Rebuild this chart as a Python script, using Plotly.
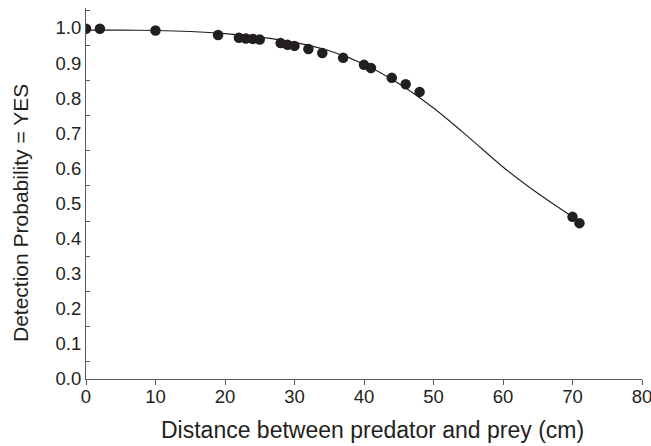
import plotly.graph_objects as go

# Observed data points
distance_cm = [0, 2, 10, 19, 22, 23, 24, 25, 28, 29, 30, 32, 34, 37, 40, 41, 44, 46, 48, 70, 71]
detect_prob = [0.998, 0.998, 0.993, 0.98, 0.972, 0.970, 0.969, 0.967, 0.957, 0.952, 0.949,
               0.940, 0.929, 0.915, 0.895, 0.886, 0.858, 0.840, 0.818, 0.462, 0.444]

# Fitted curve
curve_x = [0, 5, 10, 15, 20, 25, 30, 35, 40, 45, 50, 55, 60, 65, 70]
curve_y = [0.994, 0.994, 0.993, 0.990, 0.984, 0.974, 0.959, 0.935, 0.897, 0.842, 0.772,
           0.690, 0.604, 0.529, 0.462]

x_ticks = [0, 10, 20, 30, 40, 50, 60, 70, 80]

ink = "#231f20"
axis_col = "#5a5a5a"

L, R, T, B = 86, 9, 8, 67
W, H = 651, 446
pw, ph = W - L - R, H - T - B

fig = go.Figure()
fig.add_trace(go.Scatter(x=curve_x, y=curve_y, mode="lines",
                         line=dict(color=ink, width=1.1, shape="spline", smoothing=0.8),
                         showlegend=False, hoverinfo="skip"))
fig.add_trace(go.Scatter(x=distance_cm, y=detect_prob, mode="markers",
                         marker=dict(color=ink, size=10.5, line=dict(width=0)),
                         showlegend=False))

fig.update_layout(
    width=W, height=H,
    margin=dict(l=L, r=R, t=T, b=B),
    paper_bgcolor="white", plot_bgcolor="white",
    font=dict(family="Liberation Sans, Arial, sans-serif", color=ink, size=18),
    xaxis=dict(range=[0, 80], tickvals=x_ticks, showgrid=False, zeroline=False,
               automargin=False, ticklabeloverflow="allow", ticklabelstandoff=-4,
               showline=True, linecolor=axis_col, linewidth=1,
               ticks="outside", ticklen=5, tickcolor=axis_col,
               tickfont=dict(size=18.5)),
    yaxis=dict(range=[0, 1.057], tick0=0, dtick=0.1, tickformat=".1f",
               showgrid=False, zeroline=False, automargin=False, ticklabelstandoff=0,
               showline=True, linecolor=axis_col, linewidth=1,
               ticks="", tickfont=dict(size=18.5),
               minor=dict(tick0=0.05, dtick=0.1, ticks="inside", ticklen=4,
                          tickcolor=axis_col, showgrid=False)),
    annotations=[
        dict(text="Distance between predator and prey (cm)", xref="paper", yref="paper",
             x=(372 - L) / pw, y=-(430 - (T + ph)) / ph, xanchor="center", yanchor="middle",
             showarrow=False, font=dict(size=23, color=ink)),
        dict(text="Detection Probability = YES", xref="paper", yref="paper",
             x=-(L - 20) / pw, y=((T + ph) - 213) / ph, xanchor="center", yanchor="middle",
             textangle=-90, showarrow=False, font=dict(size=21, color=ink)),
    ],
)

fig.write_html("out.html", post_script="document.body.style.margin='0';",
               config={"displayModeBar": False})
